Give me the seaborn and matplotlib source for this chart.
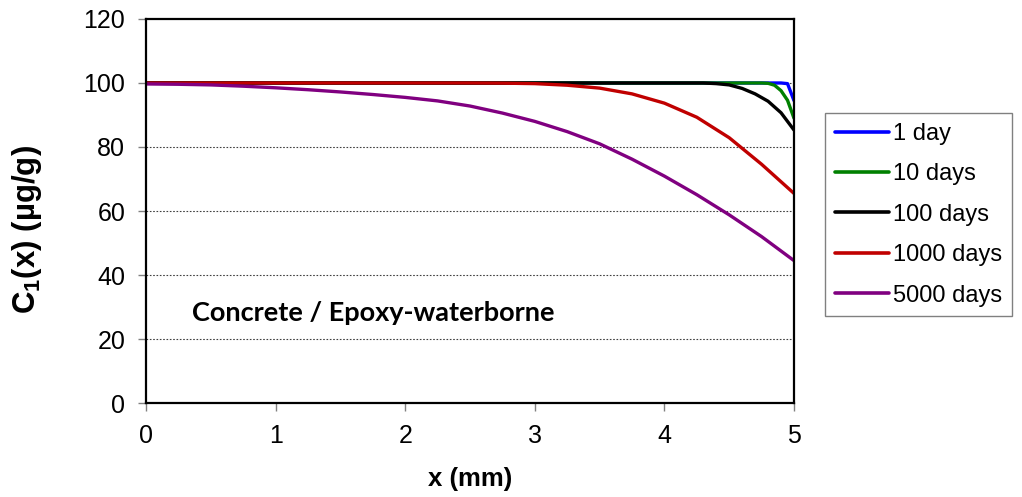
import matplotlib
matplotlib.use("Agg")
import matplotlib.pyplot as plt
import seaborn as sns
import pandas as pd

# Concentration profiles C1(x) through the coating at several exposure times
x_1day = [0.0, 4.9, 4.95, 5.0]
c_1day = [100.0, 100.0, 99.8, 94.5]

x_10days = [0.0, 4.75, 4.8, 4.85, 4.9, 4.95, 5.0]
c_10days = [100.0, 100.0, 99.9, 99.3, 97.6, 94.6, 89.0]

x_100days = [0.0, 4.3, 4.4, 4.5, 4.6, 4.7, 4.8, 4.9, 5.0]
c_100days = [100.0, 100.0, 99.8, 99.4, 98.3, 96.6, 94.3, 90.7, 85.3]

x_1000days = [0.0, 2.5, 2.75, 3.0, 3.25, 3.5, 3.75, 4.0, 4.25, 4.5, 4.75, 5.0]
c_1000days = [100.0, 100.0, 99.95, 99.8, 99.3, 98.4, 96.6, 93.7, 89.3, 82.9,
              74.6, 65.5]

x_5000days = [0.0, 0.25, 0.5, 0.75, 1.0, 1.25, 1.5, 1.75, 2.0, 2.25, 2.5,
              2.75, 3.0, 3.25, 3.5, 3.75, 4.0, 4.25, 4.5, 4.75, 5.0]
c_5000days = [99.7, 99.6, 99.4, 99.0, 98.5, 97.9, 97.2, 96.4, 95.5, 94.4, 92.8,
              90.6, 88.0, 84.8, 81.0, 76.2, 70.9, 65.1, 58.8, 52.0, 44.5]

series_labels = ["1 day", "10 days", "100 days", "1000 days", "5000 days"]
series_colors = ["#0000FF", "#008000", "#000000", "#C00000", "#800080"]

frames = []
for lab, xs, cs in zip(series_labels,
                       [x_1day, x_10days, x_100days, x_1000days, x_5000days],
                       [c_1day, c_10days, c_100days, c_1000days, c_5000days]):
    frames.append(pd.DataFrame({"x": xs, "C": cs, "time": lab}))
df = pd.concat(frames, ignore_index=True)

sns.set_style("white")
plt.rcParams["font.family"] = ["Liberation Sans", "DejaVu Sans"]
plt.rcParams["text.color"] = "black"
plt.rcParams["axes.labelcolor"] = "black"
plt.rcParams["xtick.color"] = "black"
plt.rcParams["ytick.color"] = "black"
plt.rcParams["mathtext.fontset"] = "custom"
plt.rcParams["mathtext.rm"] = "Liberation Sans:bold"
plt.rcParams["mathtext.bf"] = "Liberation Sans:bold"

fig = plt.figure(figsize=(10.22, 4.97), dpi=100)
ax = fig.add_axes([0.1429, 0.1891, 0.634, 0.7727])

sns.lineplot(data=df, x="x", y="C", hue="time", hue_order=series_labels,
             palette=dict(zip(series_labels, series_colors)),
             linewidth=2.4, sort=False, estimator=None, ax=ax, legend=True)

ax.set_xlim(0, 5)
ax.set_ylim(0, 120)
ax.set_xticks([0, 1, 2, 3, 4, 5])
ax.set_yticks([0, 20, 40, 60, 80, 100, 120])
ax.tick_params(axis="both", which="major", labelsize=18, direction="out",
               length=6, width=1, color="#808080", labelcolor="black",
               bottom=True, left=True)
ax.tick_params(axis="x", pad=9)
ax.tick_params(axis="y", pad=9)

for y in [20, 40, 60, 80, 100]:
    ax.axhline(y, color="#404040", linestyle=(0, (1.5, 1.5)), linewidth=0.8,
               zorder=0)

for sp in ax.spines.values():
    sp.set_color("black")
    sp.set_linewidth(1.6)

ax.set_xlabel("x (mm)", fontsize=18.5, fontweight="bold", labelpad=14)
ax.set_ylabel(r"C$_\mathregular{1}$(x) (µg/g)", fontsize=22.5,
              fontweight="bold")
ax.yaxis.set_label_coords(-0.158, 0.452)

ax.text(0.355, 25.6, "Concrete / Epoxy-waterborne", fontsize=19.5,
        fontweight="bold", family=["Lato", "DejaVu Sans"], va="baseline",
        ha="left")

handles, labels = ax.get_legend_handles_labels()
leg = ax.legend(handles, labels, loc="upper left",
                bbox_to_anchor=(825 / 1022, 1 - 113 / 497),
                bbox_transform=fig.transFigure, fontsize=17, frameon=True,
                fancybox=False, edgecolor="#606060", handlelength=2.3,
                handletextpad=0.15, labelspacing=0.78, borderpad=0.42,
                borderaxespad=0)
leg.get_frame().set_linewidth(1.0)
for line in leg.get_lines():
    line.set_linewidth(2.6)

fig.savefig("out.png", dpi=100)
